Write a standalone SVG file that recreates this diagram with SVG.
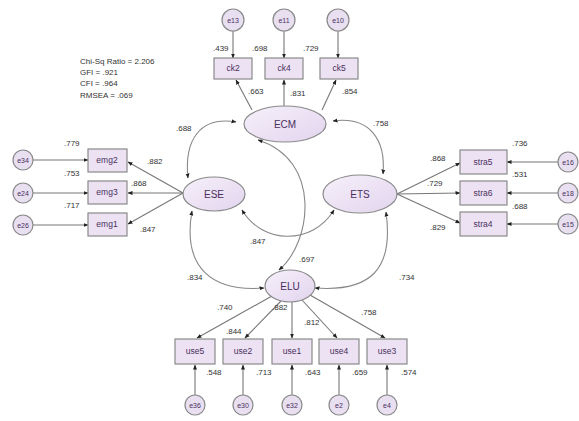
<svg xmlns="http://www.w3.org/2000/svg" width="579" height="421" viewBox="0 0 579 421">
<defs>
<marker id="ah" viewBox="0 0 10 10" refX="9" refY="5" markerWidth="5" markerHeight="5" orient="auto-start-reverse" markerUnits="userSpaceOnUse"><path d="M0,1 L10,5 L0,9 z" fill="#222"/></marker>
<linearGradient id="g" x1="0" y1="0" x2="1" y2="1"><stop offset="0" stop-color="#f6f0fa"/><stop offset="1" stop-color="#e2d4ee"/></linearGradient>
</defs>
<style>
.lat{fill:url(#g);stroke:#8a8a8a;stroke-width:1.2}
.box{fill:#ece2f3;stroke:#8a8a8a;stroke-width:1.2}
.err{fill:#e8dff0;stroke:#8a8a8a;stroke-width:1.2}
.ln{stroke:#777;stroke-width:1.1;fill:none;marker-end:url(#ah)}
.cv{stroke:#888;stroke-width:1.1;fill:none;marker-end:url(#ah);marker-start:url(#ah)}
text{font-family:"Liberation Sans",Arial,sans-serif;fill:#333;font-size:8px}
.nm{fill:#4a2f5e;font-size:8.5px;text-anchor:middle}
.ln2{fill:#4a2f5e;font-size:10px;text-anchor:middle}
.en{fill:#4a2f5e;font-size:7px;text-anchor:middle}
</style>
<rect width="579" height="421" fill="#fff"/>
<g id="fit">
<text x="80" y="64">Chi-Sq Ratio = 2.206</text>
<text x="80" y="75">GFI = .921</text>
<text x="80" y="86">CFI = .964</text>
<text x="80" y="98">RMSEA = .069</text>
</g>
<g id="connectors">
<!-- top errors -->
<line class="ln" x1="233" y1="31" x2="233" y2="58"/>
<line class="ln" x1="284" y1="31" x2="284" y2="58"/>
<line class="ln" x1="338" y1="31" x2="338" y2="58"/>
<!-- ECM loadings -->
<line class="ln" x1="252" y1="110" x2="236" y2="80"/>
<line class="ln" x1="284" y1="106" x2="284" y2="80"/>
<line class="ln" x1="322" y1="110" x2="336" y2="80"/>
<!-- left errors -->
<line class="ln" x1="33" y1="160" x2="88" y2="160"/>
<line class="ln" x1="33" y1="193" x2="88" y2="193"/>
<line class="ln" x1="33" y1="225" x2="88" y2="225"/>
<!-- ESE loadings -->
<line class="ln" x1="183" y1="193" x2="128" y2="162"/>
<line class="ln" x1="183" y1="193" x2="128" y2="193"/>
<line class="ln" x1="183" y1="193" x2="128" y2="224"/>
<!-- right errors -->
<line class="ln" x1="558" y1="162" x2="507" y2="162"/>
<line class="ln" x1="558" y1="193" x2="507" y2="193"/>
<line class="ln" x1="558" y1="224" x2="507" y2="224"/>
<!-- ETS loadings -->
<line class="ln" x1="397" y1="194" x2="460" y2="163"/>
<line class="ln" x1="397" y1="194" x2="460" y2="193"/>
<line class="ln" x1="397" y1="194" x2="460" y2="223"/>
<!-- ELU loadings -->
<line class="ln" x1="272" y1="296" x2="197" y2="338"/>
<line class="ln" x1="281" y1="301" x2="245" y2="338"/>
<line class="ln" x1="292" y1="302" x2="292" y2="338"/>
<line class="ln" x1="302" y1="300" x2="337" y2="338"/>
<line class="ln" x1="310" y1="295" x2="385" y2="338"/>
<!-- bottom errors -->
<line class="ln" x1="195" y1="395" x2="195" y2="365"/>
<line class="ln" x1="243" y1="395" x2="243" y2="365"/>
<line class="ln" x1="292" y1="395" x2="292" y2="365"/>
<line class="ln" x1="339" y1="395" x2="339" y2="365"/>
<line class="ln" x1="387" y1="395" x2="387" y2="365"/>
<!-- covariances -->
<path class="cv" d="M236,122 C200,116 184,140 188,178"/>
<path class="cv" d="M333,121 C370,116 386,140 383,174"/>
<path class="cv" d="M242,210 C262,244 312,246 334,210"/>
<path class="cv" d="M258,140 C322,160 312,242 279,270"/>
<path class="cv" d="M192,211 C182,268 212,292 264,288"/>
<path class="cv" d="M386,212 C394,270 370,292 315,288"/>
</g>
<g id="ECM"><ellipse class="lat" cx="285" cy="124" rx="41" ry="18"/><text class="ln2" x="285" y="128">ECM</text></g>
<g id="ESE"><ellipse class="lat" cx="214" cy="194" rx="31" ry="17"/><text class="ln2" x="214" y="198">ESE</text></g>
<g id="ETS"><ellipse class="lat" cx="360" cy="194" rx="37" ry="19"/><text class="ln2" x="360" y="198">ETS</text></g>
<g id="ELU"><ellipse class="lat" cx="290" cy="286" rx="25" ry="16"/><text class="ln2" x="290" y="290">ELU</text></g>
<g id="ck2"><rect class="box" x="214" y="58" width="38" height="21"/><text class="nm" x="233" y="71">ck2</text></g>
<g id="ck4"><rect class="box" x="265" y="58" width="38" height="21"/><text class="nm" x="284" y="71">ck4</text></g>
<g id="ck5"><rect class="box" x="320" y="58" width="38" height="21"/><text class="nm" x="339" y="71">ck5</text></g>
<g id="e13"><circle class="err" cx="233" cy="20" r="11"/><text class="en" x="233" y="23">e13</text></g>
<g id="e11"><circle class="err" cx="284" cy="20" r="11"/><text class="en" x="284" y="23">e11</text></g>
<g id="e10"><circle class="err" cx="338" cy="20" r="11"/><text class="en" x="338" y="23">e10</text></g>
<g id="emg2"><rect class="box" x="88" y="149" width="39" height="23"/><text class="nm" x="107" y="163">emg2</text></g>
<g id="emg3"><rect class="box" x="88" y="181" width="39" height="23"/><text class="nm" x="107" y="195">emg3</text></g>
<g id="emg1"><rect class="box" x="88" y="213" width="39" height="23"/><text class="nm" x="107" y="227">emg1</text></g>
<g id="e34"><circle class="err" cx="23" cy="160" r="10"/><text class="en" x="23" y="163">e34</text></g>
<g id="e24"><circle class="err" cx="23" cy="193" r="10"/><text class="en" x="23" y="196">e24</text></g>
<g id="e26"><circle class="err" cx="23" cy="225" r="10"/><text class="en" x="23" y="228">e26</text></g>
<g id="stra5"><rect class="box" x="460" y="150" width="47" height="24"/><text class="nm" x="483" y="165">stra5</text></g>
<g id="stra6"><rect class="box" x="460" y="181" width="47" height="24"/><text class="nm" x="483" y="196">stra6</text></g>
<g id="stra4"><rect class="box" x="460" y="212" width="47" height="24"/><text class="nm" x="483" y="227">stra4</text></g>
<g id="e16"><circle class="err" cx="568" cy="162" r="10"/><text class="en" x="568" y="165">e16</text></g>
<g id="e18"><circle class="err" cx="568" cy="193" r="10"/><text class="en" x="568" y="196">e18</text></g>
<g id="e15"><circle class="err" cx="568" cy="224" r="10"/><text class="en" x="568" y="227">e15</text></g>
<g id="use5"><rect class="box" x="175" y="339" width="40" height="25"/><text class="nm" x="195" y="354">use5</text></g>
<g id="use2"><rect class="box" x="223" y="339" width="40" height="25"/><text class="nm" x="243" y="354">use2</text></g>
<g id="use1"><rect class="box" x="272" y="339" width="40" height="25"/><text class="nm" x="292" y="354">use1</text></g>
<g id="use4"><rect class="box" x="319" y="339" width="40" height="25"/><text class="nm" x="339" y="354">use4</text></g>
<g id="use3"><rect class="box" x="367" y="339" width="40" height="25"/><text class="nm" x="387" y="354">use3</text></g>
<g id="e36"><circle class="err" cx="195" cy="405" r="10"/><text class="en" x="195" y="408">e36</text></g>
<g id="e30"><circle class="err" cx="243" cy="405" r="10"/><text class="en" x="243" y="408">e30</text></g>
<g id="e32"><circle class="err" cx="292" cy="405" r="10"/><text class="en" x="292" y="408">e32</text></g>
<g id="e2"><circle class="err" cx="339" cy="405" r="10"/><text class="en" x="339" y="408">e2</text></g>
<g id="e4"><circle class="err" cx="387" cy="405" r="10"/><text class="en" x="387" y="408">e4</text></g>
<g id="labels">
<text x="213" y="51">.439</text>
<text x="252" y="51">.698</text>
<text x="303" y="51">.729</text>
<text x="248" y="94">.663</text>
<text x="290" y="96">.831</text>
<text x="342" y="94">.854</text>
<text x="64" y="146">.779</text>
<text x="64" y="176">.753</text>
<text x="64" y="208">.717</text>
<text x="147" y="164">.882</text>
<text x="131" y="186">.868</text>
<text x="140" y="232">.847</text>
<text x="512" y="146">.736</text>
<text x="512" y="177">.531</text>
<text x="512" y="209">.688</text>
<text x="430" y="161">.868</text>
<text x="427" y="186">.729</text>
<text x="430" y="230">.829</text>
<text x="217" y="310">.740</text>
<text x="226" y="334">.844</text>
<text x="272" y="310">.882</text>
<text x="304" y="325">.812</text>
<text x="361" y="315">.758</text>
<text x="206" y="375">.548</text>
<text x="256" y="375">.713</text>
<text x="305" y="375">.643</text>
<text x="352" y="375">.659</text>
<text x="401" y="375">.574</text>
<text x="176" y="131">.688</text>
<text x="373" y="126">.758</text>
<text x="250" y="244">.847</text>
<text x="299" y="262">.697</text>
<text x="187" y="280">.834</text>
<text x="399" y="280">.734</text>
</g>
</svg>
